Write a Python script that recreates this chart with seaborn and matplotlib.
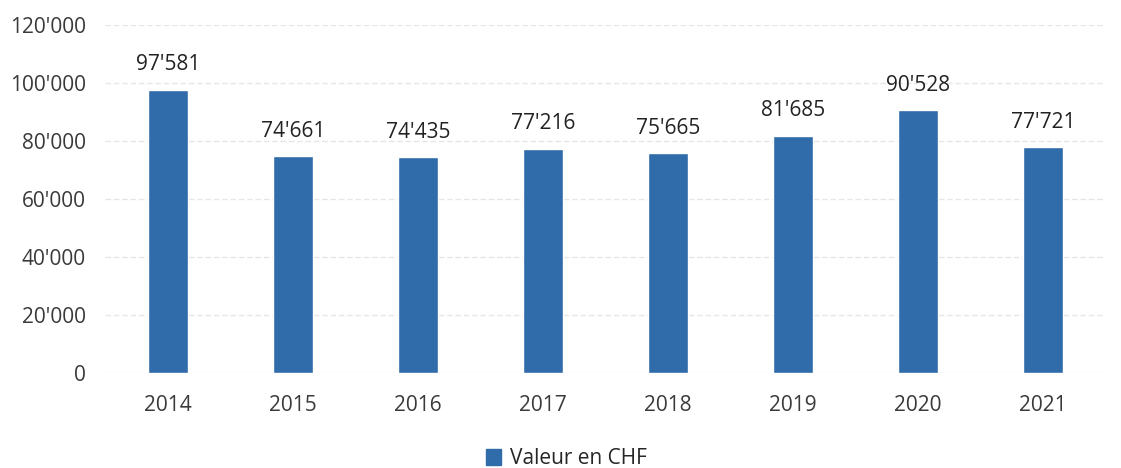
import matplotlib
matplotlib.use("Agg")
import matplotlib.pyplot as plt
import seaborn as sns
import pandas as pd
from matplotlib.ticker import FuncFormatter
from matplotlib.patches import Patch

# Data
years = ["2014", "2015", "2016", "2017", "2018", "2019", "2020", "2021"]
values = [97581, 74661, 74435, 77216, 75665, 81685, 90528, 77721]

df = pd.DataFrame({"Année": years, "Valeur en CHF": values})

sns.set_style("white")
plt.rcParams['font.family'] = ['Open Sans', 'DejaVu Sans']

bar_color = "#2f6ca9"
fs = 15

def swiss(x, pos=None):
    return f"{int(round(x)):,}".replace(",", "'")

fig = plt.figure(figsize=(11.21, 4.68), dpi=100)
ax = fig.add_axes([0.094, 0.203, 0.892, 0.744])

sns.barplot(data=df, x="Année", y="Valeur en CHF", color=bar_color,
            width=0.32, saturation=1, ax=ax)

ax.set_ylim(0, 120000)
ax.set_yticks(range(0, 120001, 20000))
ax.yaxis.set_major_formatter(FuncFormatter(swiss))
ax.grid(axis="y", color="#e6e6e6", linewidth=1, linestyle=(0, (4, 2)))
ax.set_axisbelow(True)
for s in ax.spines.values():
    s.set_visible(False)
ax.tick_params(axis="both", length=0, labelsize=fs, colors="#3a3a3a")
ax.tick_params(axis="x", pad=16)
ax.tick_params(axis="y", pad=14)
ax.set_xlabel("")
ax.set_ylabel("")

for i, v in enumerate(values):
    ax.text(i, v + 5000, swiss(v), ha="center", va="bottom",
            fontsize=fs, color="#222222")

fig.legend(handles=[Patch(color=bar_color, label="Valeur en CHF")],
           loc="center", bbox_to_anchor=(0.505, 0.02), frameon=False,
           fontsize=fs, handlelength=0.75, handleheight=0.75, handletextpad=0.4)

fig.savefig("out.png", dpi=100)
